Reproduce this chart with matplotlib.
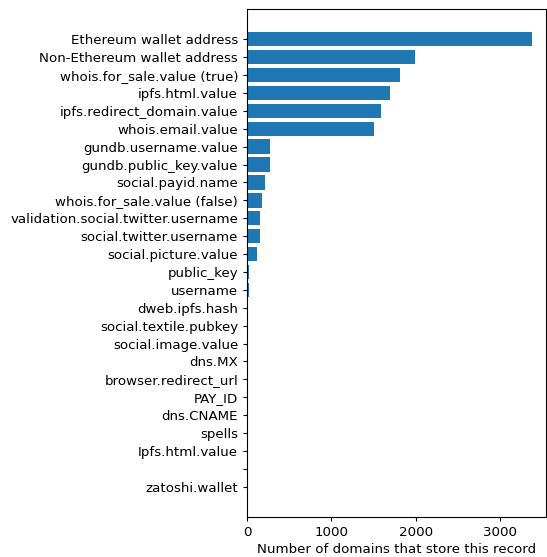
import matplotlib
matplotlib.use("Agg")
import matplotlib.pyplot as plt

records = [
    "Ethereum wallet address",
    "Non-Ethereum wallet address",
    "whois.for_sale.value (true)",
    "ipfs.html.value",
    "ipfs.redirect_domain.value",
    "whois.email.value",
    "gundb.username.value",
    "gundb.public_key.value",
    "social.payid.name",
    "whois.for_sale.value (false)",
    "validation.social.twitter.username",
    "social.twitter.username",
    "social.picture.value",
    "public_key",
    "username",
    "dweb.ipfs.hash",
    "social.textile.pubkey",
    "social.image.value",
    "dns.MX",
    "browser.redirect_url",
    "PAY_ID",
    "dns.CNAME",
    "spells",
    "Ipfs.html.value",
    "",
    "zatoshi.wallet",
]
counts = [3370, 1990, 1810, 1695, 1590, 1500, 272, 272, 213, 178, 155, 155, 118,
          20, 18, 16, 5, 4, 3, 3, 2, 2, 1, 1, 1, 1]

plt.rcParams['font.size'] = 9.6

fig = plt.figure(figsize=(5.47, 5.57), dpi=100)
ax = fig.add_axes([247 / 547, 40 / 557, 299 / 547, 508 / 557])

ax.barh(range(len(records)), counts, color="#1f77b4")
ax.set_yticks(range(len(records)))
ax.set_yticklabels(records)
ax.invert_yaxis()
ax.tick_params(length=2.6, pad=3.8)
ax.set_xlabel("Number of domains that store this record", labelpad=3)

fig.savefig("out.png", dpi=100)
